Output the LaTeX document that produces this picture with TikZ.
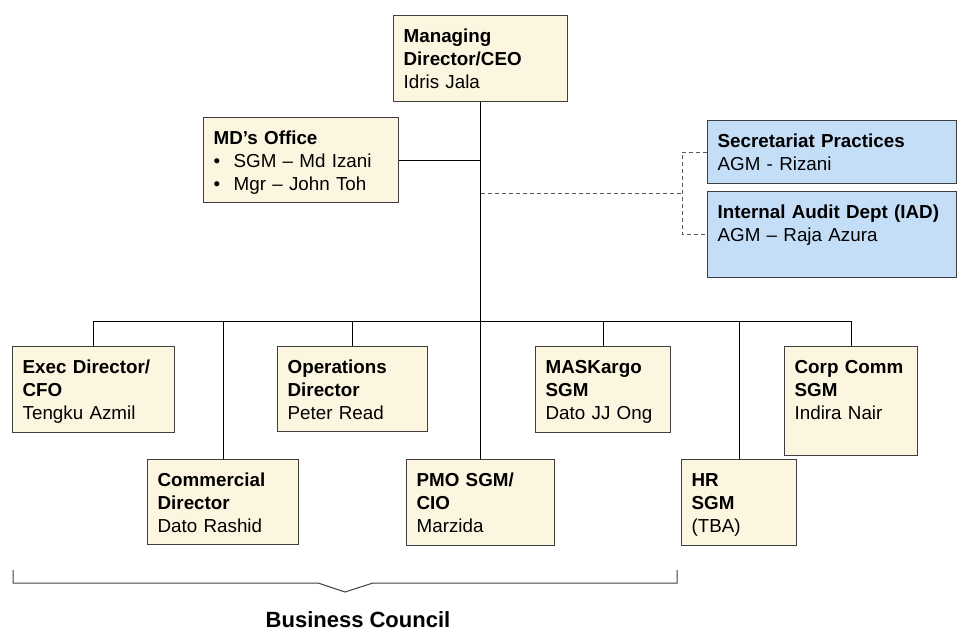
\documentclass[tikz,border=0pt]{standalone}
\usepackage{fontspec}
\setmainfont{Liberation Sans}
\usepackage{tikz}
\definecolor{unitFill}{RGB}{252, 245, 223}
\definecolor{staffFill}{RGB}{197, 222, 247}
\definecolor{unitLine}{RGB}{64, 64, 64}
\definecolor{staffLine}{RGB}{90, 90, 90}
\newcommand{\unitfont}{\fontsize{18.8}{23}\selectfont}

\begin{document}
\begin{tikzpicture}[x=1pt, y=-1pt,
  unit/.style={draw=unitLine, fill=unitFill, line width=1.3pt, anchor=north west,
    align=left, inner xsep=10pt, inner ysep=0pt, text height=27pt, font=\unitfont},
  staffunit/.style={unit, fill=staffFill},
  link/.style={line width=0.9pt},
  staff/.style={staffLine, line width=1pt, dash pattern=on 4pt off 3pt}]
  \useasboundingbox (0,0) rectangle (957,632);

  % top of the tree
  \node[unit, text width=154pt, text depth=59pt] (ceo) at (393,15) {\textbf{Managing}\\\textbf{Director/CEO}\\Idris Jala};
  \node[unit, text width=175pt, text depth=58pt] (mdoffice) at (203,117) {\textbf{MD’s Office}\\\makebox[20pt][l]{\textbullet}SGM – Md Izani\\\makebox[20pt][l]{\textbullet}Mgr – John Toh};
  \node[staffunit, text width=229pt, text depth=36pt] (secretariat) at (707,120) {\textbf{Secretariat Practices}\\AGM - Rizani};
  \node[staffunit, text width=229pt, text depth=59pt] (iad) at (707,191) {\textbf{Internal Audit Dept (IAD)}\\AGM – Raja Azura};

  % direct reports, two staggered rows
  \node[unit, text width=142pt, text depth=59pt] (exec) at (12,346) {\textbf{Exec Director/}\\\textbf{CFO}\\Tengku Azmil};
  \node[unit, text width=130pt, text depth=58pt] (ops) at (277,346) {\textbf{Operations}\\\textbf{Director}\\Peter Read};
  \node[unit, text width=115pt, text depth=59pt] (maskargo) at (535,346) {\textbf{MASKargo}\\\textbf{SGM}\\Dato JJ Ong};
  \node[unit, text width=113pt, text depth=82pt] (corpcomm) at (784,346) {\textbf{Corp Comm}\\\textbf{SGM}\\Indira Nair};
  \node[unit, text width=131pt, text depth=58pt] (commercial) at (147,459) {\textbf{Commercial}\\\textbf{Director}\\Dato Rashid};
  \node[unit, text width=128pt, text depth=59pt] (pmo) at (406,459) {\textbf{PMO SGM/}\\\textbf{CIO}\\Marzida};
  \node[unit, text width=95pt, text depth=59pt] (hr) at (681,459) {\textbf{HR}\\\textbf{SGM}\\(TBA)};

  \coordinate (bus) at (480,321);
  \coordinate (staffjoin) at (682,193);

  \draw[link] (ceo.south) -- (pmo.north);
  \draw[link] (mdoffice.east) -- (mdoffice.east -| ceo.south);
  \draw[link] (exec.north |- bus) -- (corpcomm.north |- bus);
  \foreach \n in {exec, commercial, ops, maskargo, hr, corpcomm}
    \draw[link] (\n.north |- bus) -- (\n.north);

  \draw[staff] (ceo.south |- staffjoin) -- (staffjoin);
  \draw[staff] (secretariat.west) -| (staffjoin) |- (iad.west);

  % bracket under the business council
  \draw[unitLine, line width=1pt] (13,570) -- (13,583) -- (318,583) -- (345,592) -- (373,583) -- (677,583) -- (677,570);
  \node[font=\fontsize{22}{26}\selectfont\bfseries, anchor=base] (council) at (358,627) {Business Council};
\end{tikzpicture}
\end{document}
